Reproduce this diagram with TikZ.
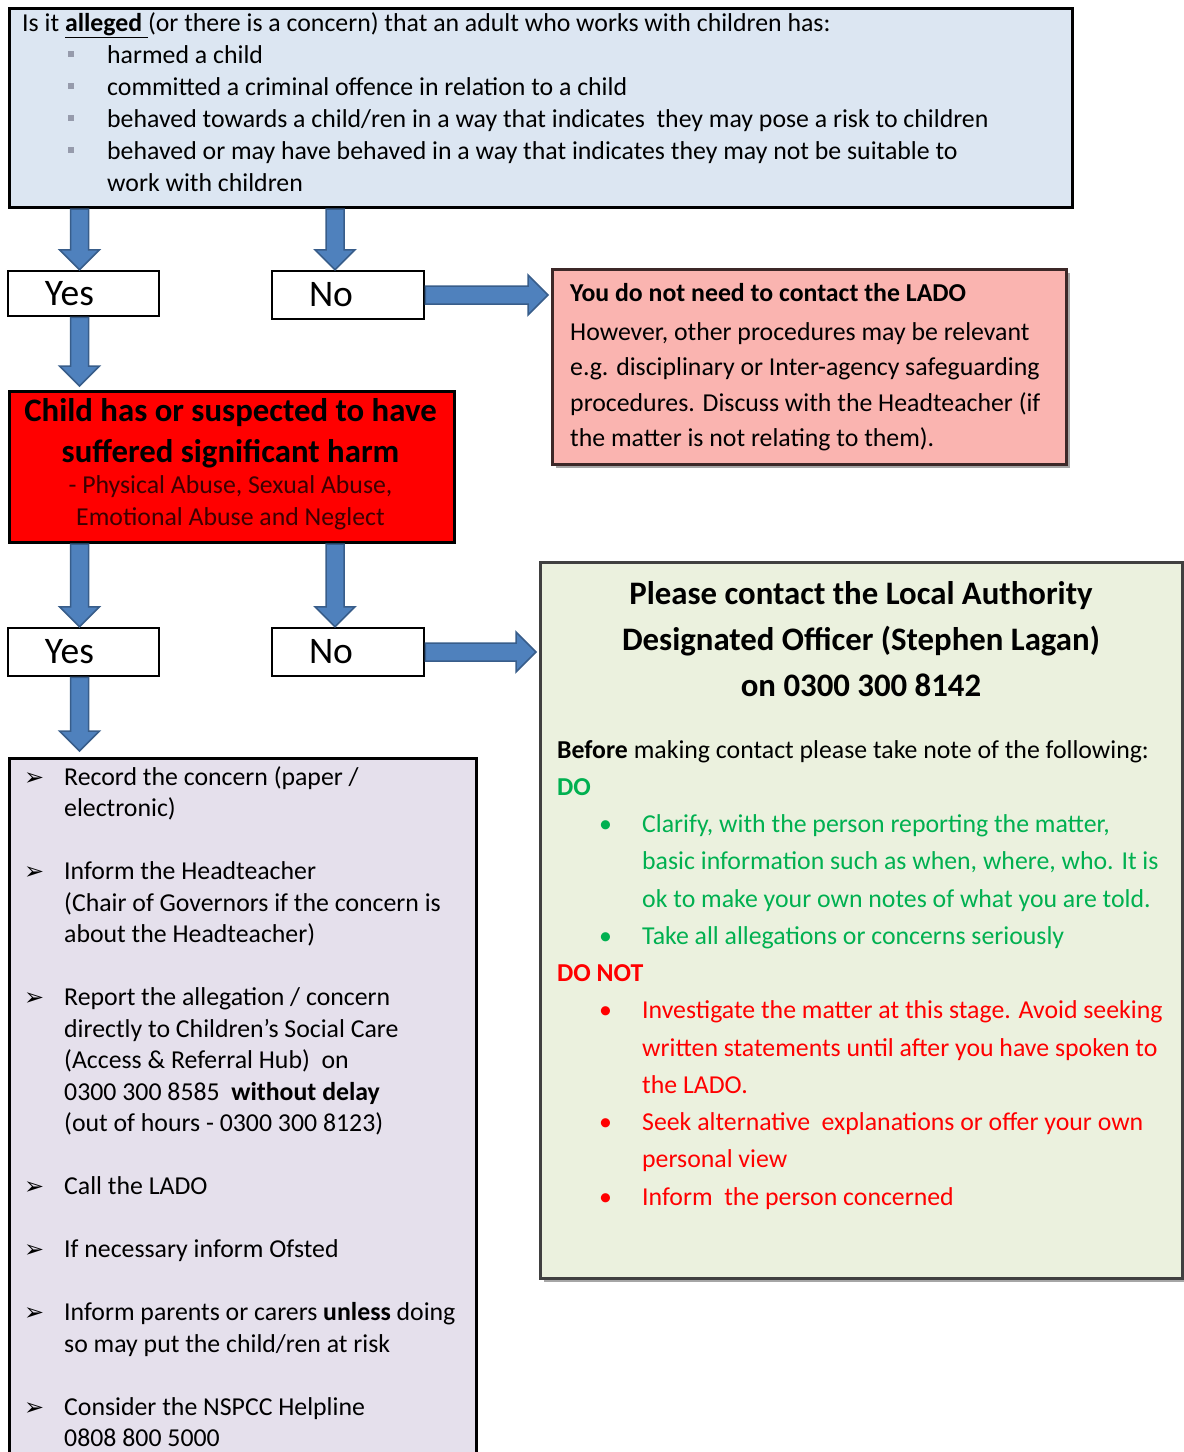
\documentclass[tikz,border=0pt]{standalone}
\usepackage{fontspec}
\setmainfont{Carlito}
\newfontfamily\symfont{DejaVu Sans}
\usetikzlibrary{calc,shadows}

\definecolor{qblue}{RGB}{220,230,242}
\definecolor{arrowfill}{RGB}{79,129,189}
\definecolor{arrowline}{RGB}{56,93,138}
\definecolor{nopink}{RGB}{250,180,176}
\definecolor{pinkline}{RGB}{60,40,40}
\definecolor{ladogreen}{RGB}{235,241,222}
\definecolor{ladoline}{RGB}{64,64,64}
\definecolor{steplilac}{RGB}{229,224,236}
\definecolor{dogreen}{RGB}{0,176,80}
\definecolor{donotred}{RGB}{255,0,0}
\definecolor{sqgray}{RGB}{150,155,172}
\definecolor{harmsub}{RGB}{60,0,0}

\newcommand{\sqb}{\makebox[85pt][l]{\hspace*{46pt}\textcolor{sqgray}{\rule[6pt]{6pt}{6pt}}}}
\newcommand{\gitem}[1]{\makebox[85pt][l]{\hspace*{42pt}\textcolor{dogreen}{•}}\textcolor{dogreen}{#1}}
\newcommand{\gcont}[1]{\hspace*{85pt}\textcolor{dogreen}{#1}}
\newcommand{\ritem}[1]{\makebox[85pt][l]{\hspace*{42pt}\textcolor{donotred}{•}}\textcolor{donotred}{#1}}
\newcommand{\rcont}[1]{\hspace*{85pt}\textcolor{donotred}{#1}}
\newcommand{\arrb}{\makebox[40pt][l]{\symfont\fontsize{24}{24}\selectfont ➢}}
\newcommand{\arrh}{\hspace*{40pt}}

\begin{document}
\begin{tikzpicture}[x=1pt, y=-1pt,
  box/.style={draw, line width=3pt, anchor=north west, inner sep=0pt},
  yn/.style={draw, line width=2.5pt, fill=white, inner xsep=37pt, inner ysep=0pt,
    text width=77pt, align=left, font=\fontsize{37.5}{40}\selectfont},
  txt/.style={inner sep=0pt, anchor=base west},
  blockarrow/.style={draw=arrowline, fill=arrowfill, line width=1.5pt, line join=miter,
    to path={let \p1=(\tikztostart), \p2=(\tikztotarget),
      \n1={veclen(\x2-\x1,\y2-\y1)}, \n2={atan2(\y2-\y1,\x2-\x1)} in
      {[shift={(\p1)}, rotate=\n2]
      (0pt,-9pt) -- ({\n1-20},-9pt) -- ({\n1-20},-20pt) -- ({\n1},0pt)
      -- ({\n1-20},20pt) -- ({\n1-20},9pt) -- (0pt,9pt) -- cycle}}}]
\useasboundingbox (0,0) rectangle (1184,1452);

% boxes
\node[box, fill=qblue, minimum width=1063pt, minimum height=199pt] (q) at (8,7) {};
\node[box, fill=nopink, draw=pinkline, minimum width=514pt, minimum height=195pt,
  drop shadow={shadow xshift=3pt, shadow yshift=-3pt, fill=black!35, opacity=1}] (pink) at (551,268) {};
\node[box, fill=red, minimum width=445pt, minimum height=151pt] (harm) at (8,390) {};
\node[box, fill=ladogreen, draw=ladoline, minimum width=642pt, minimum height=716pt,
  drop shadow={shadow xshift=3pt, shadow yshift=-3pt, fill=black!35, opacity=1}] (lado) at (539,561) {};
\node[box, fill=steplilac, minimum width=467pt, minimum height=730pt] (steps) at (8,757) {};

\node[yn, minimum height=45pt] (yes1) at (83.5,293.5) {Yes};
\node[yn, text width=78pt, minimum height=48pt] (no1) at (348,295) {No};
\node[yn, minimum height=48pt] (yes2) at (83.5,652) {Yes};
\node[yn, text width=78pt, minimum height=48pt] (no2) at (348,652) {No};

% texts
\node[txt, font=\fontsize{25.8}{32}\selectfont] (qtext) at (22,31) {\begin{tabular}[t]{@{}l@{}}
Is it \underline{\textbf{alleged}\ }(or there is a concern) that an adult who works with children has:\\
\sqb harmed a child\\
\sqb committed a criminal offence in relation to a child\\
\sqb behaved towards a child/ren in a way that indicates\ \ they may pose a risk to children\\
\sqb behaved or may have behaved in a way that indicates they may not be suitable to\\
\hspace*{85pt}work with children
\end{tabular}};

\node[txt, font=\fontsize{25.8}{35.5}\selectfont] (pinktext) at (570,301) {\begin{tabular}[t]{@{}l@{}}
\textbf{You do not need to contact the LADO}\\[3.5pt]
However, other procedures may be relevant\\
e.g. disciplinary or Inter-agency safeguarding\\
procedures. Discuss with the Headteacher (if\\
the matter is not relating to them).
\end{tabular}};

\node[inner sep=0pt, anchor=base, font=\fontsize{32.8}{41}\selectfont\bfseries] (harmtext) at (230.5,421.5) {\begin{tabular}[t]{@{}c@{}}
Child has or suspected to have\\
suffered significant harm\\[-10pt]
{\mdseries\fontsize{25.8}{32}\selectfont\color{harmsub}- Physical Abuse, Sexual Abuse,}\\[-9pt]
{\mdseries\fontsize{25.8}{32}\selectfont\color{harmsub}Emotional Abuse and Neglect}
\end{tabular}};

\node[inner sep=0pt, anchor=base, font=\fontsize{32.8}{46}\selectfont\bfseries] (ladohead) at (861,604.5) {\begin{tabular}[t]{@{}c@{}}
Please contact the Local Authority\\
Designated Officer (Stephen Lagan)\\
on 0300 300 8142
\end{tabular}};

\node[txt, font=\fontsize{25.8}{37.25}\selectfont] (ladotext) at (557,758) {\begin{tabular}[t]{@{}l@{}}
\textbf{Before} making contact please take note of the following:\\
\textcolor{dogreen}{\textbf{DO}}\\
\gitem{Clarify, with the person reporting the matter,}\\
\gcont{basic information such as when, where, who. It is}\\
\gcont{ok to make your own notes of what you are told.}\\
\gitem{Take all allegations or concerns seriously}\\
\textcolor{donotred}{\textbf{DO NOT}}\\
\ritem{Investigate the matter at this stage. Avoid seeking}\\
\rcont{written statements until after you have spoken to}\\
\rcont{the LADO.}\\
\ritem{Seek alternative\ \ explanations or offer your own}\\
\rcont{personal view}\\
\ritem{Inform\ \ the person concerned}
\end{tabular}};

\node[txt, font=\fontsize{25.8}{31.5}\selectfont] (stepstext) at (24,785) {\begin{tabular}[t]{@{}l@{}}
\arrb Record the concern (paper /\\
\arrh electronic)\\
\\
\arrb Inform the Headteacher\\
\arrh (Chair of Governors if the concern is\\
\arrh about the Headteacher)\\
\\
\arrb Report the allegation / concern\\
\arrh directly to Children’s Social Care\\
\arrh (Access \& Referral Hub)\ \ on\\
\arrh 0300 300 8585\ \ \textbf{without delay}\\
\arrh (out of hours - 0300 300 8123)\\
\\
\arrb Call the LADO\\
\\
\arrb If necessary inform Ofsted\\
\\
\arrb Inform parents or carers \textbf{unless} doing\\
\arrh so may put the child/ren at risk\\
\\
\arrb Consider the NSPCC Helpline\\
\arrh 0808 800 5000
\end{tabular}};

% arrows
\draw[blockarrow] ($(yes1.north |- q.south)+(-4,0)$) to ($(yes1.north)+(-4,0)$);
\draw[blockarrow] ($(no1.north |- q.south)+(-13,0)$) to ($(no1.north)+(-13,0)$);
\draw[blockarrow] (no1.east) to ($(no1.east -| pink.west)+(-3,0)$);
\draw[blockarrow] ($(yes1.south)+(-4,0)$) to ($(yes1.south |- harm.north)+(-4,-4)$);
\draw[blockarrow] ($(yes2.north |- harm.south)+(-4,0)$) to ($(yes2.north)+(-4,0)$);
\draw[blockarrow] ($(no2.north |- harm.south)+(-13,0)$) to ($(no2.north)+(-13,0)$);
\draw[blockarrow] (no2.east) to ($(no2.east -| lado.west)+(-3,0)$);
\draw[blockarrow] ($(yes2.south)+(-4,0)$) to ($(yes2.south |- steps.north)+(-4,-6)$);
\end{tikzpicture}
\end{document}
